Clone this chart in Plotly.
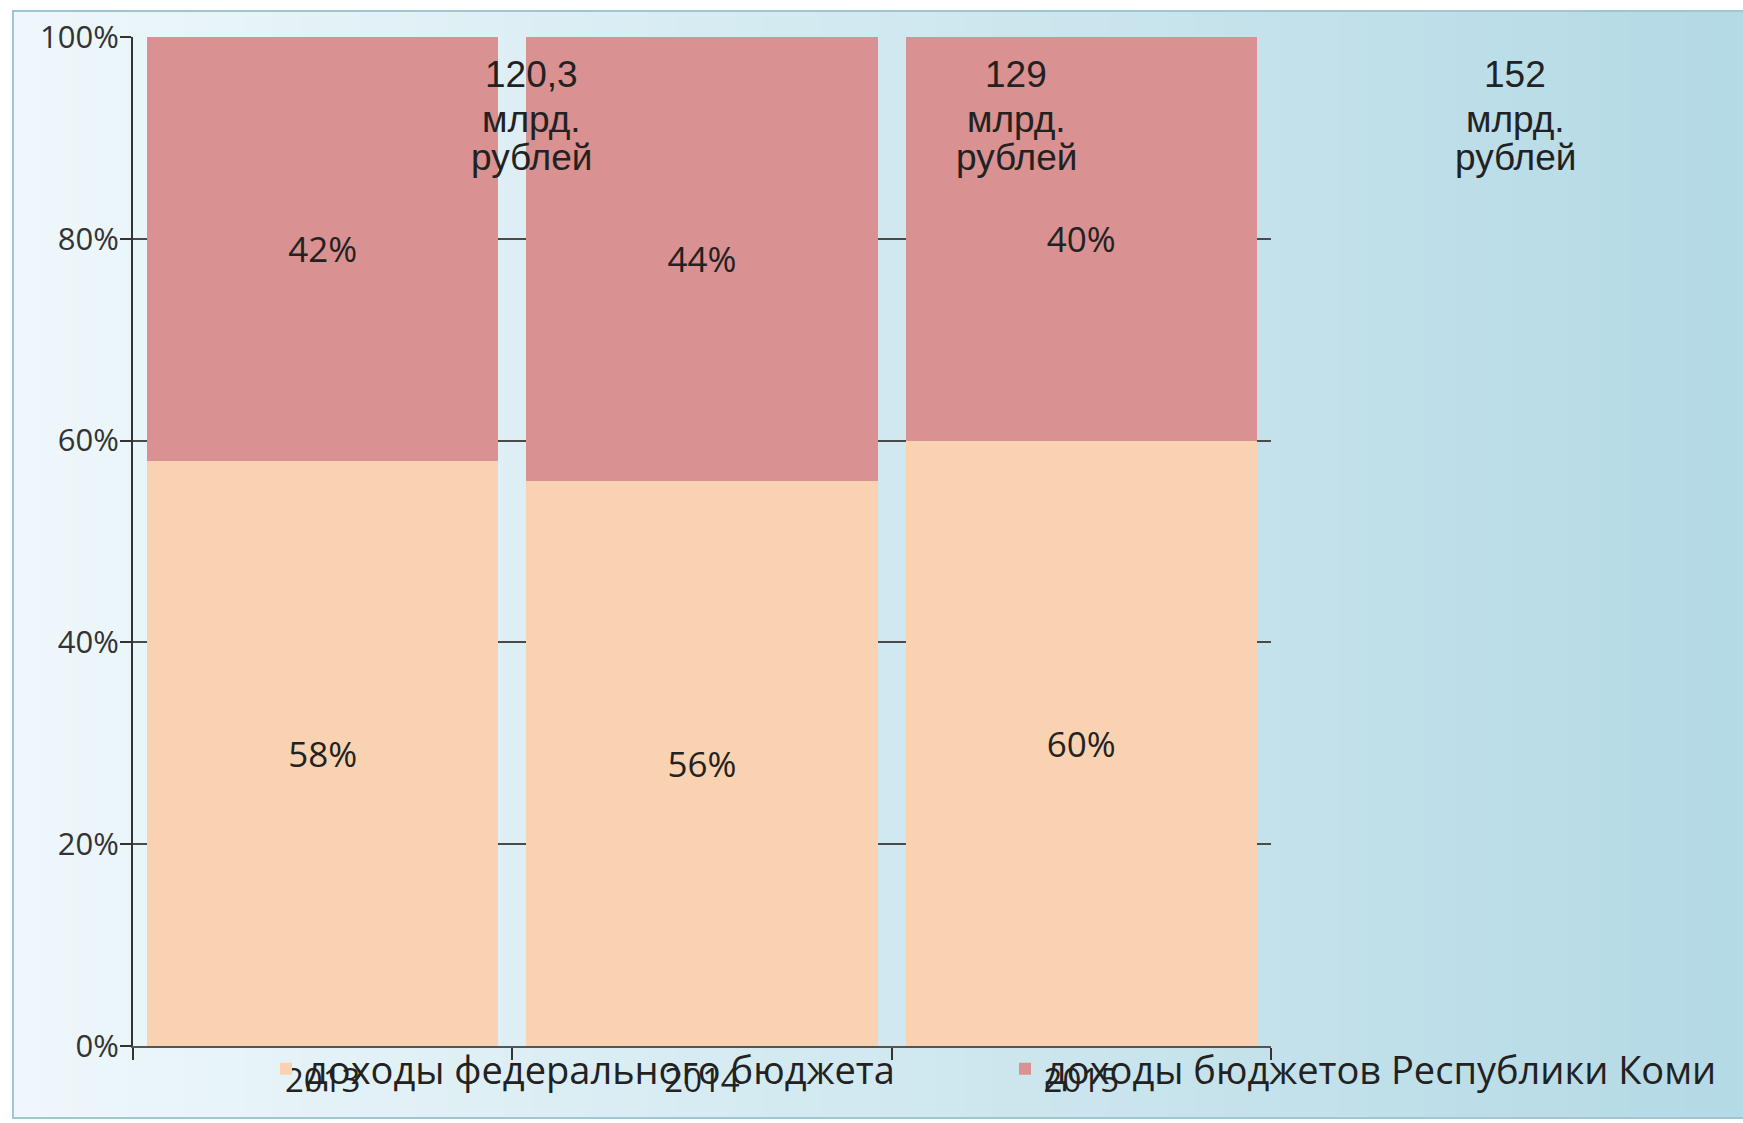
import plotly.graph_objects as go

# data
years = ["2013", "2014", "2015"]
federal_share = [0.58, 0.56, 0.60]
komi_share = [0.42, 0.44, 0.40]
federal_labels = ["58%", "56%", "60%"]
komi_labels = ["42%", "44%", "40%"]
totals = ["120,3", "129", "152"]
unit_lines = ["млрд.", "рублей"]

W, H = 1743, 1123
L, R, T, B = 133, W - 1271, 37, H - 1046
pw, ph = W - L - R, H - T - B


def px_x(p):
    return (p - L) / pw


def px_y(p):
    return (H - B - p) / ph


fig = go.Figure()
fig.add_trace(go.Bar(
    x=years, y=federal_share, name="доходы федерального бюджета",
    marker=dict(color="#F9D2B2", line=dict(width=0)),
    text=federal_labels, textposition="inside", insidetextanchor="middle",
    textfont=dict(size=35, color="#222", family="Open Sans"),
    legend="legend",
))
fig.add_trace(go.Bar(
    x=years, y=komi_share, name="доходы бюджетов Республики Коми",
    marker=dict(color="#D99191", line=dict(width=0)),
    text=komi_labels, textposition="inside", insidetextanchor="middle",
    textfont=dict(size=35, color="#222", family="Open Sans"),
    legend="legend2",
))

# gradient background as thin strips
x0p, x1p = 13, W
y0p, y1p = 11, 1118
n = 60
c0 = (238, 247, 251)
c1 = (180, 218, 229)
shapes = []
for i in range(n):
    f = i / (n - 1)
    col = tuple(round(a + (b - a) * f) for a, b in zip(c0, c1))
    xa = x0p + (x1p - x0p) * i / n
    xb = x0p + (x1p - x0p) * (i + 1) / n + 1
    shapes.append(dict(
        type="rect", xref="paper", yref="paper", layer="below",
        x0=px_x(xa), x1=px_x(xb), y0=px_y(y1p), y1=px_y(y0p),
        fillcolor="rgb(%d,%d,%d)" % col, line=dict(width=0),
    ))
shapes.append(dict(
    type="rect", xref="paper", yref="paper", layer="below",
    x0=px_x(x0p), x1=px_x(W + 5), y0=px_y(y1p), y1=px_y(y0p),
    fillcolor="rgba(0,0,0,0)", line=dict(color="#9fc6d2", width=2),
))

# total labels: centre x of each block (px) and line centres (px)
block_x = [531, 1016, 1515]
line_y = [74, 119, 158]
annots = []
for bx, t in zip(block_x, totals):
    for ly, s in zip(line_y, [t] + unit_lines):
        annots.append(dict(
            x=px_x(bx), xref="paper", y=px_y(ly), yref="paper",
            xanchor="center", yanchor="middle", text=s, showarrow=False,
            font=dict(family="Liberation Sans", size=37, color="#222"),
        ))

fig.update_layout(
    width=W, height=H,
    margin=dict(l=L, r=R, t=T, b=B, autoexpand=False),
    barmode="stack", bargap=0.073,
    paper_bgcolor="white", plot_bgcolor="rgba(0,0,0,0)",
    shapes=shapes, annotations=annots,
    font=dict(family="Open Sans", color="#222"),
    showlegend=True,
    legend=dict(orientation="h", x=px_x(266), xanchor="left", y=px_y(1069), yanchor="middle",
                bgcolor="rgba(0,0,0,0)", font=dict(size=38, family="Open Sans", color="#222")),
    legend2=dict(orientation="h", x=px_x(1005), xanchor="left", y=px_y(1069), yanchor="middle",
                 bgcolor="rgba(0,0,0,0)", font=dict(size=38, family="Open Sans", color="#222")),
    xaxis=dict(
        type="category", range=[-0.5, 2.5], showgrid=False,
        showline=True, linecolor="#555", linewidth=2,
        ticks="outside", tickson="boundaries", ticklen=12, tickcolor="#333", tickwidth=2,
        tickfont=dict(size=33, family="Open Sans", color="#222"),
        ticklabelstandoff=4,
    ),
    yaxis=dict(
        range=[0, 1], tickvals=[0, 0.2, 0.4, 0.6, 0.8, 1.0],
        ticktext=["0%", "20%", "40%", "60%", "80%", "100%"],
        showgrid=True, gridcolor="#4a4a4a", gridwidth=2,
        showline=True, linecolor="#333", linewidth=2,
        ticks="outside", ticklen=11, tickcolor="#333", tickwidth=2,
        tickfont=dict(size=31, family="Open Sans", color="#333"),
        ticklabelstandoff=-5,
        zeroline=False,
    ),
)

fig.write_html("out.html", config={"displayModeBar": False},
               post_script="document.body.style.margin='0px';")
